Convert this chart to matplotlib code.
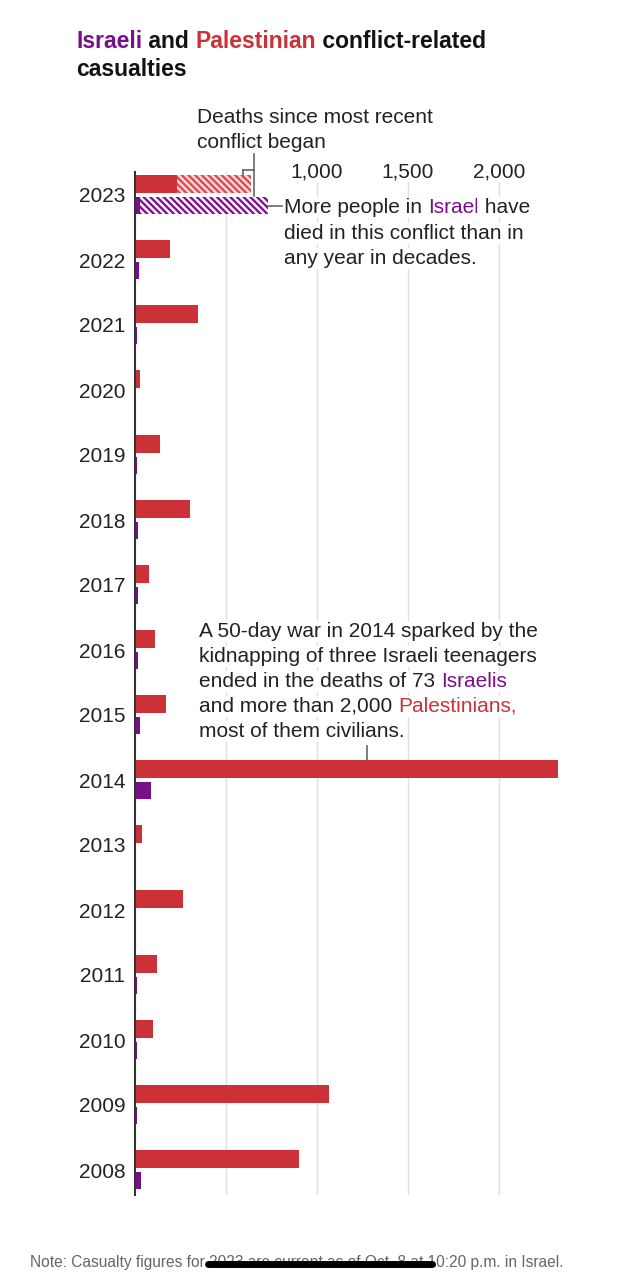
import matplotlib
matplotlib.use("Agg")
import matplotlib.pyplot as plt
from matplotlib.lines import Line2D

W, H = 632, 1280

years = [2023, 2022, 2021, 2020, 2019, 2018, 2017, 2016, 2015, 2014,
         2013, 2012, 2011, 2010, 2009, 2008]
palestinian = [232, 192, 346, 28, 137, 302, 77, 110, 170, 2324,
               39, 264, 121, 99, 1066, 900]
israeli = [27, 21, 13, 3, 10, 14, 18, 15, 28, 88, 6, 7, 11, 9, 9, 35]
# extra 2023 deaths since the most recent conflict began (hatched)
palestinian_since = 405
israeli_since = 703
grid_values = [500, 1000, 1500, 2000]
tick_labels = ["1,000", "1,500", "2,000"]

RED = "#cc3138"
PURPLE = "#7a0f8c"
INK = "#222222"
BODY = ["Liberation Sans", "DejaVu Sans"]
NARROW = ["Liberation Sans Narrow", "Liberation Sans", "DejaVu Sans"]

plt.rcParams["hatch.linewidth"] = 1.6

fig = plt.figure(figsize=(W / 100, H / 100), dpi=100)
fig.patch.set_facecolor("white")

# axes: zero at x=135, 2000 at x=499; rows 2023 at y=195 ... 2008 at y=1170
scale = (499 - 135) / 2000
xmax = 2400
ax = fig.add_axes([135 / W, 1 - 1195 / H, xmax * scale / W, (1195 - 172) / H])
ypos = list(range(len(years)))
ax.set_xlim(0, xmax)
ax.set_ylim(15 + 25 / 65, -(195 - 172) / 65)

for g in grid_values:
    ax.axvline(g, color="#e0e0e0", lw=1, zorder=0)

off, bh_r, bh_p = 0.165, 0.28, 0.265
ax.barh([y - off for y in ypos], palestinian, height=bh_r, color=RED, zorder=2)
ax.barh([y + off for y in ypos], israeli, height=bh_p, color=PURPLE, zorder=2)
ax.barh(0 - off, palestinian_since, left=palestinian[0], height=bh_r,
        facecolor="#f9d6d6", edgecolor="#d8474d", hatch="\\" * 5, lw=0, zorder=2)
ax.barh(0 + off, israeli_since, left=israeli[0], height=bh_p,
        facecolor="#fcf0fc", edgecolor=PURPLE, hatch="\\" * 5, lw=0, zorder=2)

ax.set_yticks(ypos)
ax.set_yticklabels([str(y) for y in years], family=BODY, fontsize=15, color=INK)
ax.tick_params(axis="y", length=0, pad=7)
ax.set_xticks([])
for s in ["top", "right", "bottom"]:
    ax.spines[s].set_visible(False)
ax.spines["left"].set_color("#333333")
ax.spines["left"].set_linewidth(1.5)
ax.spines["left"].set_zorder(3)

renderer = fig.canvas.get_renderer()
halo = dict(facecolor="white", edgecolor="none", pad=1)


def text_width(s, **kw):
    # width of a string incl. trailing spaces: measure s+"x" minus "x"
    a = fig.text(0, 0, s + "x", **kw)
    b = fig.text(0, 0, "x", **kw)
    w = a.get_window_extent(renderer).width - b.get_window_extent(renderer).width
    a.remove()
    b.remove()
    return w


def line_of(x, y, parts, size=15, family=BODY, weight="normal", box=True):
    prefix = ""
    font = dict(fontsize=size, family=family, weight=weight)
    for s, c in parts:
        dx = text_width(prefix, **font) if prefix else 0
        fig.text((x + dx) / W, 1 - y / H, s, color=c, ha="left", va="baseline",
                 bbox=halo if box else None, zorder=5, **font)
        prefix += s


def seg(x0, y0, x1, y1, color="#666666", lw=1.2):
    fig.add_artist(Line2D([x0 / W, x1 / W], [1 - y0 / H, 1 - y1 / H],
                          color=color, lw=lw, zorder=6))


# title
line_of(76, 48, [("Israeli", PURPLE), (" and ", "#121212"), ("Palestinian", RED),
                 (" conflict-related", "#121212")],
        size=16.5, family=NARROW, weight="bold", box=False)
line_of(76, 76, [("casualties", "#121212")], size=16.5, family=NARROW,
        weight="bold", box=False)

# x tick labels at top
for v, lab in zip(grid_values[1:], tick_labels):
    fig.text((135 + v * scale) / W, 1 - 177 / H, lab, fontsize=15, family=BODY,
             color=INK, ha="center", va="baseline", bbox=halo, zorder=5)

# 2023 annotations
line_of(197, 123, [("Deaths since most recent", INK)])
line_of(197, 148, [("conflict began", INK)])
seg(254, 154, 254, 196)
seg(243, 170, 254, 170)
seg(243, 170, 243, 175)

seg(268, 206, 282, 206)
line_of(284, 213, [("More people in ", INK), ("Israel", PURPLE), (" have", INK)])
line_of(284, 239, [("died in this conflict than in", INK)])
line_of(284, 264, [("any year in decades.", INK)])

# 2014 annotation
line_of(199, 637, [("A 50-day war in 2014 sparked by the", INK)])
line_of(199, 662, [("kidnapping of three Israeli teenagers", INK)])
line_of(199, 687, [("ended in the deaths of 73 ", INK), ("Israelis", PURPLE)])
line_of(199, 712, [("and more than 2,000 ", INK), ("Palestinians,", RED)])
line_of(199, 737, [("most of them civilians.", INK)])
seg(367, 746, 367, 761)

# note
line_of(30, 1267, [("Note: Casualty figures for 2023 are current as of Oct. 8 at 10:20 p.m. in Israel.",
                    "#666666")], size=11.2, family=NARROW, box=False)
fig.add_artist(Line2D([208 / W, 432 / W], [1 - 1264 / H, 1 - 1264 / H],
                      color="black", lw=5, solid_capstyle="round", zorder=7))

fig.savefig("out.png", dpi=100, facecolor="white")
